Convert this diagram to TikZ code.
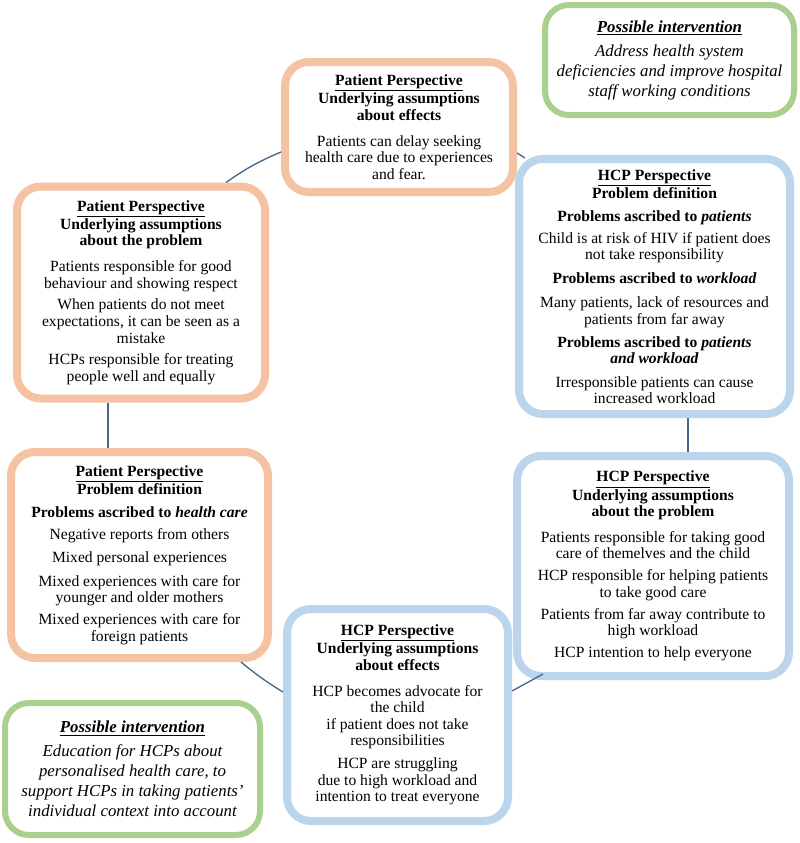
\documentclass[tikz,border=0pt]{standalone}
\usepackage{fontspec}
\setmainfont{Liberation Serif}
\usetikzlibrary{calc}
\definecolor{porange}{HTML}{F5C2A3}
\definecolor{hblue}{HTML}{BBD5EC}
\definecolor{igreen}{HTML}{A9D08E}
\definecolor{conn}{HTML}{44688F}
\newcommand{\hd}[1]{\textbf{#1}}
\begin{document}
\begin{tikzpicture}[x=0.75pt,y=-0.75pt,
  box/.style={draw, line width=6pt, rounded corners=18pt, fill=white, align=center, inner sep=0pt,
    font=\fontsize{11.7}{12.4}\selectfont},
  patbox/.style={box, draw=porange},
  hcpbox/.style={box, draw=hblue},
  intbox/.style={draw=igreen, line width=4.5pt, rounded corners=18pt, fill=white, align=center, inner sep=0pt,
    font=\fontsize{12.6}{15}\selectfont\itshape},
  link/.style={draw=conn, line width=1pt}]
\useasboundingbox (0,0) rectangle (800,843);
\fill[white] (0,0) rectangle (800,843);

\node[patbox, minimum width=171pt, minimum height=97.5pt] (A) at (399,127)
 {\hd{\underline{Patient Perspective}}\\ \hd{Underlying assumptions}\\ \hd{about effects}\\[7pt]
  Patients can delay seeking\\ health care due to experiences\\ and fear.};

\node[hcpbox, minimum width=203.25pt, minimum height=191.25pt] (B) at (654.5,286.5)
 {\hd{\underline{HCP Perspective}}\\ \hd{Problem definition}\\[5pt]
  \hd{Problems ascribed to \textit{patients}}\\[4pt]
  Child is at risk of HIV if patient does\\ not take responsibility\\[5pt]
  \hd{Problems ascribed to \textit{workload}}\\[6pt]
  Many patients, lack of resources and\\ patients from far away\\[5pt]
  \hd{Problems ascribed to \textit{patients}}\\ \hd{\textit{and workload}}\\[5pt]
  Irresponsible patients can cause\\ increased workload};

\node[patbox, minimum width=186pt, minimum height=159pt] (C) at (141,292.5)
 {\hd{\underline{Patient Perspective}}\\ \hd{Underlying assumptions}\\ \hd{about the problem}\\[7pt]
  Patients responsible for good\\ behaviour and showing respect\\[4pt]
  When patients do not meet\\ expectations, it can be seen as a\\ mistake\\[4pt]
  HCPs responsible for treating\\ people well and equally};

\node[patbox, minimum width=192.75pt, minimum height=154.5pt] (D) at (139.5,555)
 {\hd{\underline{Patient Perspective}}\\ \hd{Problem definition}\\[5pt]
  \hd{Problems ascribed to \textit{health care}}\\[4pt]
  Negative reports from others\\[5pt]
  Mixed personal experiences\\[5pt]
  Mixed experiences with care for\\ younger and older mothers\\[4pt]
  Mixed experiences with care for\\ foreign patients};

\node[hcpbox, minimum width=204pt, minimum height=165pt] (E) at (653,566)
 {\hd{\underline{HCP Perspective}}\\ \hd{Underlying assumptions}\\ \hd{about the problem}\\[7pt]
  Patients responsible for taking good\\ care of themelves and the child\\[4pt]
  HCP responsible for helping patients\\ to take good care\\[4pt]
  Patients from far away contribute to\\ high workload\\[4pt]
  HCP intention to help everyone};

\node[hcpbox, minimum width=165.75pt, minimum height=159pt] (F) at (397.5,715)
 {\hd{\underline{HCP Perspective}}\\ \hd{Underlying assumptions}\\ \hd{about effects}\\[7pt]
  HCP becomes advocate for\\ the child\\ if patient does not take\\ responsibilities\\[5pt]
  HCP are struggling\\ due to high workload and\\ intention to treat everyone};

\node[intbox, minimum width=191.25pt, minimum height=99pt] (G) at (132.5,769)
 {\textbf{\underline{Possible intervention}}\\[3pt]
  Education for HCPs about\\ personalised health care, to\\ support HCPs in taking patients'\\ individual context into account};

\node[intbox, minimum width=186.75pt, minimum height=82.5pt] (H) at (669.5,60)
 {\textbf{\underline{Possible intervention}}\\[3pt]
  Address health system\\ deficiencies and improve hospital\\ staff working conditions};

\draw[link] ([xshift=63.75pt]C.north) to[bend left=6] ([yshift=-18.75pt]A.west);
\draw[link] ([yshift=-19.5pt]A.east) -- ([xshift=7.5pt,yshift=-2.25pt]B.north west);
\draw[link] ([xshift=25.1pt]B.south) -- ([xshift=25.1pt]B.south |- E.north);
\draw[link] ([xshift=-24.75pt]C.south) -- ([xshift=-24.75pt]C.south |- D.north);
\draw[link] ([xshift=76.1pt]D.south) to[bend right=4] ([yshift=17.25pt]F.west);
\draw[link] ([yshift=18pt]F.east) -- ([xshift=22.5pt,yshift=4.5pt]E.south west);
\end{tikzpicture}
\end{document}
